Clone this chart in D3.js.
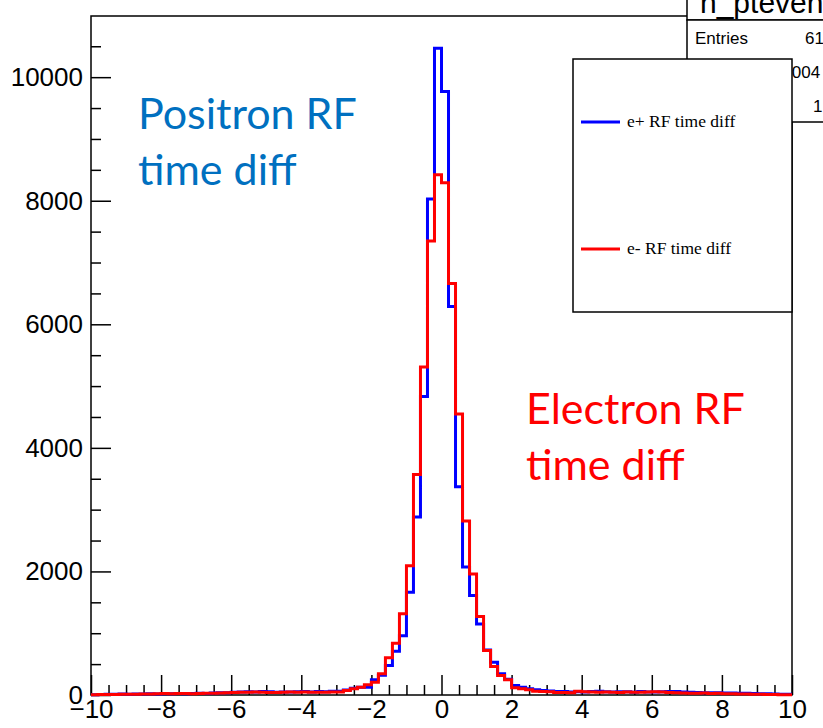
<!DOCTYPE html>
<html lang="en">
<head>
<meta charset="utf-8">
<title>RF time diff</title>
<script src="https://cdn.jsdelivr.net/npm/d3@7"></script>
<style>
  body { margin: 0; background: #fff; }
  svg { display: block; }
  .axis text { font-family: "Liberation Sans", Arial, sans-serif; font-size: 26px; fill: #000; }
  .axis line { stroke: #000; stroke-width: 1.5; }
  .axis path { display: none; }
</style>
</head>
<body>
<script>
var width = 823, height = 728

// histogram binning: 100 bins of 0.2 between -10 and 10
var binLow = -10, binHigh = 10, nBins = 100

var positronCounts = [
  6, 9, 14, 11, 16, 13, 18, 15, 20, 17, 22, 19, 25, 21, 24, 28, 26, 31, 35, 38,
  44, 47, 52, 49, 55, 51, 46, 50, 48, 53, 55, 50, 58, 54, 60,
  62, 80, 110, 125, 126, 246, 320, 478, 710, 960, 1665, 2880, 4830, 8030, 10470,
  9770, 6290, 3370, 2070, 1610, 1150, 730, 531, 343, 255, 152, 127, 100, 84,
  72, 66, 58, 55, 50, 52, 47, 55, 60, 52, 49, 54, 51, 46, 57, 50, 48, 53, 58, 55,
  50, 45, 41, 38, 35, 37, 32, 34, 30, 28, 24, 22, 19, 17, 14, 12
]
var electronCounts = [
  4, 7, 9, 10, 12, 11, 14, 16, 15, 19, 24, 21, 26, 23, 22, 25, 28, 30, 33, 36,
  40, 43, 45, 47, 44, 42, 41, 45, 47, 44, 49, 46, 43, 45, 48,
  50, 73, 100, 126, 165, 208, 343, 602, 839, 1315, 2090, 3570, 5310, 7350, 8420,
  8290, 6660, 4550, 2815, 1960, 1270, 721, 461, 316, 246, 117, 100, 84, 62,
  58, 54, 42, 40, 38, 60, 52, 50, 46, 48, 44, 42, 47, 45, 43, 49, 52, 47, 42, 38,
  33, 30, 28, 31, 26, 27, 22, 20, 17, 15, 13, 11, 9, 8, 6, 5
]

var xMajorTicks = [-10, -8, -6, -4, -2, 0, 2, 4, 6, 8, 10]
var yMajorTicks = [0, 2000, 4000, 6000, 8000, 10000]
var legendLabels = ["e+ RF time diff", "e- RF time diff"]
var seriesColors = ["#0000ff", "#ff0000"]
var histTitle = "h_ptevent"
var statsLabels = ["Entries", "Mean", "Std Dev"]
var statsValues = ["61", ".004", "1"]

var svg = d3.select("body").append("svg").attr("width", width).attr("height", height)

var x = d3.scaleLinear().domain([binLow, binHigh]).range([91, 792])
var y = d3.scaleLinear().domain([0, 10990]).range([695, 16])

var edges = d3.range(nBins + 1).map(function(i) { return binLow + i * (binHigh - binLow) / nBins })

// minor ticks
var xMinor = d3.range(-10, 10.001, 0.5).filter(function(v) { return Math.abs(v % 2) > 0.01 })
var yMinor = d3.range(0, 10600, 500).filter(function(v) { return v % 2000 != 0 })

svg.append("g").attr("class", "axis").attr("transform", "translate(0,695)")
  .call(d3.axisBottom(x).tickValues(xMinor).tickSize(-10).tickFormat(""))
svg.append("g").attr("class", "axis").attr("transform", "translate(0,695)")
  .call(d3.axisBottom(x).tickValues(xMajorTicks).tickSize(-20).tickPadding(5).tickFormat(d3.format("d")))
svg.append("g").attr("class", "axis").attr("transform", "translate(91,0)")
  .call(d3.axisLeft(y).tickValues(yMinor).tickSize(-10).tickFormat(""))
svg.append("g").attr("class", "axis").attr("transform", "translate(91,0)")
  .call(d3.axisLeft(y).tickValues(yMajorTicks).tickSize(-20).tickPadding(8).tickFormat(d3.format("d")))

// frame
svg.append("rect").attr("x", 91).attr("y", 16).attr("width", 701).attr("height", 679)
  .attr("fill", "none").attr("stroke", "#000").attr("stroke-width", 1.5)

// histograms
var step = d3.line().x(function(d) { return x(d[0]) }).y(function(d) { return y(d[1]) }).curve(d3.curveStepAfter)
;[positronCounts, electronCounts].forEach(function(counts, k) {
  var pts = counts.map(function(c, i) { return [edges[i], c] })
  pts.push([edges[nBins], counts[nBins - 1]])
  svg.append("path").attr("d", step(pts)).attr("fill", "none")
    .attr("stroke", seriesColors[k]).attr("stroke-width", 3)
})

// title box and stats box
svg.append("rect").attr("x", 687).attr("y", -5).attr("width", 200).attr("height", 25)
  .attr("fill", "#fff").attr("stroke", "#000").attr("stroke-width", 1.5)
svg.append("text").attr("x", 700).attr("y", 13).text(histTitle)
  .style("font-family", "Liberation Sans, Arial, sans-serif").style("font-size", "30px")
svg.append("rect").attr("x", 687).attr("y", 20).attr("width", 200).attr("height", 102)
  .attr("fill", "#fff").attr("stroke", "#000").attr("stroke-width", 1.5)
var statsY = [44, 78, 112]
statsLabels.forEach(function(l, i) {
  svg.append("text").attr("x", 695).attr("y", statsY[i]).text(l)
    .style("font-family", "Liberation Sans, Arial, sans-serif").style("font-size", "17px")
})
var statsX = [805, 787, 813]
statsValues.forEach(function(v, i) {
  svg.append("text").attr("x", statsX[i]).attr("y", statsY[i]).text(v)
    .style("font-family", "Liberation Sans, Arial, sans-serif").style("font-size", "17px")
})

// legend
svg.append("rect").attr("x", 573).attr("y", 59).attr("width", 219).attr("height", 253)
  .attr("fill", "#fff").attr("stroke", "#000").attr("stroke-width", 1.5)
var legendY = [122, 249]
legendLabels.forEach(function(l, i) {
  svg.append("line").attr("x1", 581).attr("x2", 620).attr("y1", legendY[i]).attr("y2", legendY[i])
    .attr("stroke", seriesColors[i]).attr("stroke-width", 3)
  svg.append("text").attr("x", 627).attr("y", legendY[i] + 5).text(l)
    .style("font-family", "Liberation Serif, Times New Roman, serif").style("font-size", "17.5px")
})

// annotations
function note(lines, x0, y0, color) {
  lines.forEach(function(t, i) {
    svg.append("text").attr("x", x0).attr("y", y0 + i * 56).text(t)
      .attr("fill", color)
      .style("font-family", "Lato, Open Sans, sans-serif").style("font-size", "43px")
  })
}
note(["Positron RF", "time diff"], 138, 129, "#0070c0")
note(["Electron RF", "time diff"], 526, 424, "#ff0000")
</script>
</body>
</html>
